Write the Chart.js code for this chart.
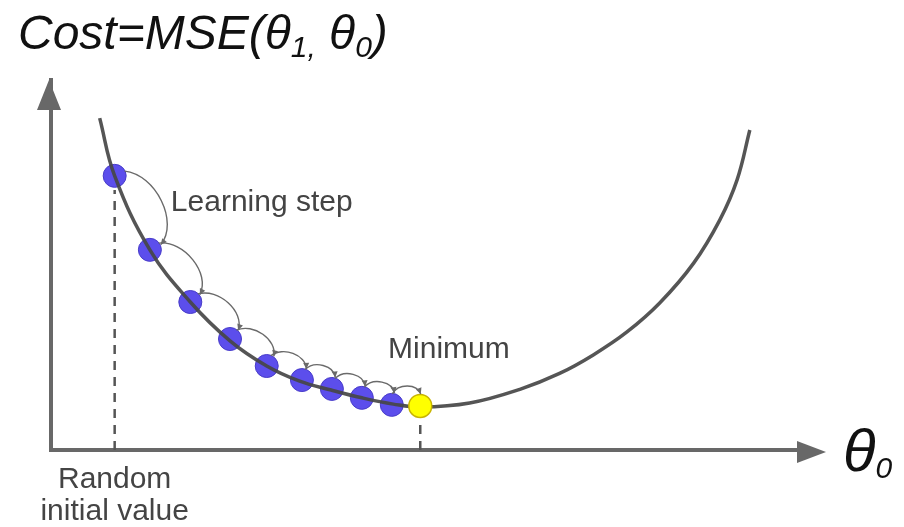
<!DOCTYPE html>
<html>
<head>
<meta charset="utf-8">
<script src="https://cdn.jsdelivr.net/npm/chart.js@4/dist/chart.umd.min.js"></script>
<style>
  html, body { margin: 0; padding: 0; background: #fff; }
  #wrap { width: 904px; height: 527px; }
</style>
</head>
<body>
<div id="wrap"><canvas id="cost-chart"></canvas></div>
<script>
// Cost curve (x = theta0, y = cost, arbitrary units)
const curveX = [0.65, 0.85, 1.32, 1.86, 2.39, 2.88, 3.32, 3.74, 4.15, 4.57, 4.93, 5.59, 6.26, 6.79, 7.24, 7.69, 8.13, 8.58, 8.93, 9.16, 9.33];
const curveY = [8.97, 7.41, 5.41, 4.00, 2.95, 2.27, 1.86, 1.62, 1.41, 1.24, 1.16, 1.27, 1.64, 2.07, 2.57, 3.19, 3.98, 5.05, 6.22, 7.30, 8.65];

// Gradient descent steps (blue) and the minimum (yellow)
const stepX = [0.85, 1.32, 1.86, 2.39, 2.88, 3.35, 3.75, 4.15, 4.55];
const stepY = [7.41, 5.41, 4.00, 3.00, 2.27, 1.89, 1.65, 1.41, 1.22];
const minX = [4.93];
const minY = [1.19];

// Dashed guides down to the axis
const startGuideY = [0, 7.03];
const minGuideY = [0, 0.81];

// Label anchors (data units)
const learningLabel = { text: "Learning step", x: 1.6, y: 6.46 };
const minimumLabel = { text: "Minimum", x: 4.5, y: 2.49 };
const startLabel = ["Random", "initial value"];

const axisColor = "#686868";
const curveColor = "rgba(70, 70, 70, 0.92)";

function toPoints(xs, ys) {
    return xs.map((x, i) => ({ x: x, y: ys[i] }));
}

// Draws text made of several runs (for the subscripts)
function drawRuns(ctx, x, y, runs) {
    for (const run of runs) {
        ctx.font = run.font;
        ctx.fillText(run.text, x, y + (run.dy || 0));
        x += ctx.measureText(run.text).width;
    }
}

function arrowHead(ctx, tipX, tipY, dirX, dirY, length, half) {
    const len = Math.hypot(dirX, dirY);
    const ux = dirX / len, uy = dirY / len;
    ctx.beginPath();
    ctx.moveTo(tipX, tipY);
    ctx.lineTo(tipX - ux * length - uy * half, tipY - uy * length + ux * half);
    ctx.lineTo(tipX - ux * length + uy * half, tipY - uy * length - ux * half);
    ctx.closePath();
    ctx.fill();
}

// Curved "learning step" arrows from each point to the next one
function drawStepArc(ctx, a, b, r) {
    const dx = b.x - a.x, dy = b.y - a.y;
    const len = Math.hypot(dx, dy);
    const nx = dy / len, ny = -dx / len;
    const sx = a.x + nx * r, sy = a.y + ny * r;
    const ex = b.x + nx * (r + 1), ey = b.y + ny * (r + 1);
    const h = len * 0.3 + 2;
    const c1x = sx + (ex - sx) * 0.2 + nx * h, c1y = sy + (ey - sy) * 0.2 + ny * h;
    const c2x = sx + (ex - sx) * 0.85 + nx * h, c2y = sy + (ey - sy) * 0.85 + ny * h;
    ctx.beginPath();
    ctx.moveTo(sx, sy);
    ctx.bezierCurveTo(c1x, c1y, c2x, c2y, ex, ey);
    ctx.stroke();
    arrowHead(ctx, ex, ey, ex - c2x, ey - c2y, 6, 3);
}

const decorPlugin = {
    id: "decor",
    afterDatasetsDraw(chart) {
        const ctx = chart.ctx;
        const steps = chart.getDatasetMeta(1).data;
        const minPt = chart.getDatasetMeta(2).data[0];
        const targets = steps.concat([minPt]);
        ctx.save();
        ctx.strokeStyle = "#6a6a6a";
        ctx.fillStyle = "#6a6a6a";
        ctx.lineWidth = 1.4;
        for (let i = 0; i < targets.length - 1; i++) {
            drawStepArc(ctx, targets[i], targets[i + 1], 11);
        }
        ctx.restore();
    },
    afterDraw(chart) {
        const ctx = chart.ctx;
        const xs = chart.scales.x;
        const ys = chart.scales.y;
        const axisY = ys.getPixelForValue(0) + 2;
        const axisX = xs.getPixelForValue(0) - 2;
        ctx.save();

        // axis arrow heads
        ctx.fillStyle = axisColor;
        arrowHead(ctx, axisX, ys.getPixelForValue(10), 0, -1, 30, 12);
        arrowHead(ctx, xs.right + 26, axisY, 1, 0, 29, 11);

        // labels
        ctx.fillStyle = "#444";
        ctx.font = "30px 'Liberation Sans', Arial, sans-serif";
        ctx.textAlign = "left";
        ctx.textBaseline = "alphabetic";
        ctx.fillText(learningLabel.text, xs.getPixelForValue(learningLabel.x), ys.getPixelForValue(learningLabel.y));
        ctx.fillText(minimumLabel.text, xs.getPixelForValue(minimumLabel.x), ys.getPixelForValue(minimumLabel.y));
        ctx.textAlign = "center";
        const cx = xs.getPixelForValue(stepX[0]);
        ctx.fillText(startLabel[0], cx, axisY + 36);
        ctx.fillText(startLabel[1], cx, axisY + 68);

        // axis name and title
        ctx.textAlign = "left";
        ctx.fillStyle = "#111";
        const it = "italic ";
        const fam = "'Liberation Sans', Arial, sans-serif";
        drawRuns(ctx, xs.right + 43, axisY + 19, [
            { text: "\u03B8", font: it + "60px " + fam },
            { text: "0", font: it + "30px " + fam, dy: 7 }
        ]);
        drawRuns(ctx, 18, 49, [
            { text: "Cost=MSE(\u03B8", font: it + "48px " + fam },
            { text: "1,", font: it + "30px " + fam, dy: 8 },
            { text: " \u03B8", font: it + "48px " + fam },
            { text: "0", font: it + "30px " + fam, dy: 8 },
            { text: ")", font: it + "48px " + fam }
        ]);
        ctx.restore();
    }
};

const chartCanvas = document.getElementById("cost-chart");

const costChart = new Chart(chartCanvas, {
    type: "scatter",
    data: {
        datasets: [
            {
                label: "Cost",
                data: toPoints(curveX, curveY),
                showLine: true,
                borderColor: curveColor,
                borderWidth: 3.5,
                pointRadius: 0,
                tension: 0.4,
                order: 0,
            },
            {
                label: "Steps",
                data: toPoints(stepX, stepY),
                backgroundColor: "rgb(92, 78, 236)",
                borderColor: "rgb(72, 60, 200)",
                borderWidth: 1,
                pointRadius: 11.5,
                order: 1,
            },
            {
                label: "Minimum",
                data: toPoints(minX, minY),
                backgroundColor: "rgb(255, 255, 0)",
                borderColor: "rgb(200, 180, 0)",
                borderWidth: 1.5,
                pointRadius: 11.5,
                order: -1,
            },
            {
                label: "Start guide",
                data: toPoints([stepX[0], stepX[0]], startGuideY),
                showLine: true,
                borderColor: "#555",
                borderWidth: 2.5,
                borderDash: [9, 7],
                pointRadius: 0,
                order: 2,
            },
            {
                label: "Minimum guide",
                data: toPoints([minX[0], minX[0]], minGuideY),
                showLine: true,
                borderColor: "#555",
                borderWidth: 2.5,
                borderDash: [9, 7],
                pointRadius: 0,
                order: 2,
            },
        ],
    },
    options: {
        responsive: true,
        maintainAspectRatio: false,
        animation: false,
        layout: {
            padding: { left: 51, right: 104, top: 80, bottom: 77 },
        },
        plugins: {
            legend: { display: false },
            tooltip: { enabled: false },
        },
        scales: {
            x: {
                type: "linear",
                min: 0,
                max: 10,
                grid: { display: false, drawTicks: false },
                ticks: { display: false },
                border: { display: true, color: axisColor, width: 4 },
            },
            y: {
                type: "linear",
                min: 0,
                max: 10,
                grid: { display: false, drawTicks: false },
                ticks: { display: false },
                border: { display: true, color: axisColor, width: 4 },
            },
        },
    },
    plugins: [decorPlugin],
});
</script>
</body>
</html>
